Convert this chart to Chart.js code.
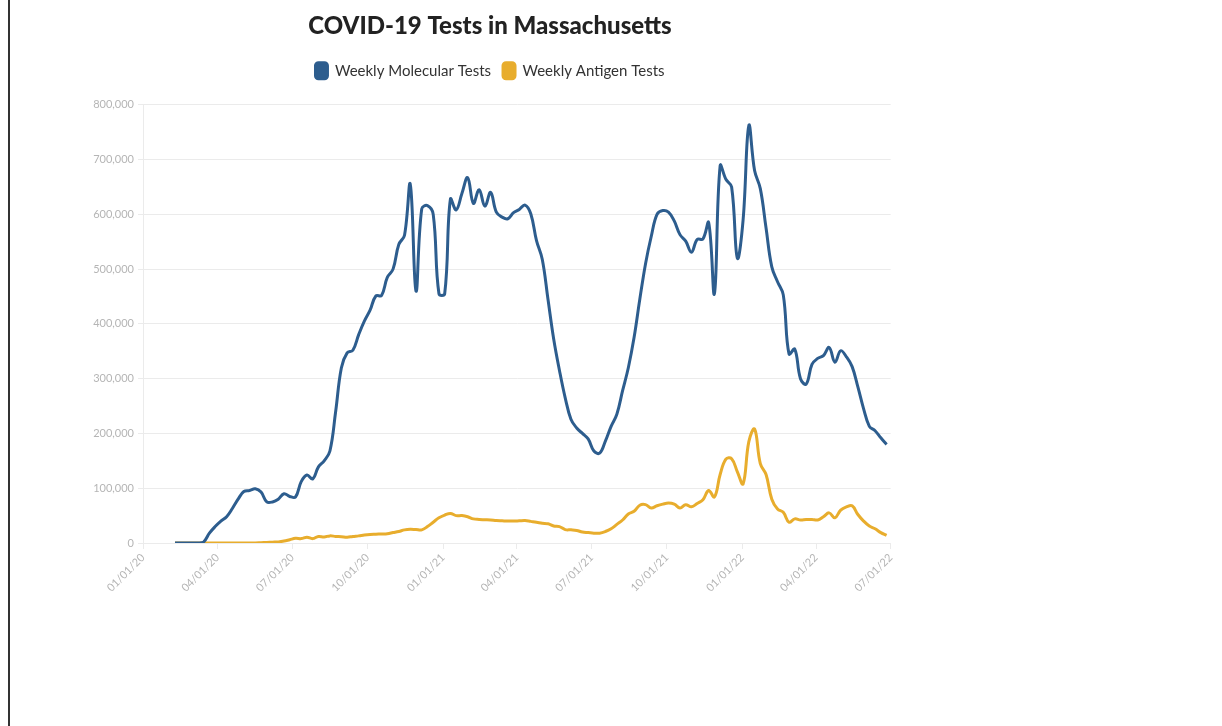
<!DOCTYPE html>
<html>
<head>
<meta charset="utf-8">
<title>COVID-19 Tests in Massachusetts</title>
<script src="https://cdn.jsdelivr.net/npm/chart.js@4.4.1/dist/chart.umd.min.js"></script>
<style>
  html, body { margin: 0; padding: 0; background: #ffffff; }
  body { width: 1222px; height: 726px; position: relative; overflow: hidden; }
  #frame-line { position: absolute; left: 8px; top: 0; width: 2px; height: 726px; background: #333; }
  #wrap { position: absolute; left: 88px; top: 0; width: 814px; height: 611px; }
</style>
</head>
<body>
<div id="frame-line"></div>
<div id="wrap"><canvas id="chart-tests"></canvas></div>
<script>
// Dados semanais (dias desde 01/01/20; primeira semana = 09/02/20)
const firstWeekDay = 39;

// Testes moleculares por semana (milhares)
const molecularK = [
  0, 0, 0, 0, 0, 2, 18, 30, 40, 48,
  63, 80, 94, 96, 99, 93, 75, 75, 80, 90,
  85, 84, 112, 124, 117, 139, 150, 168, 240, 320,
  347, 352, 380, 405, 425, 451, 452, 485, 500, 545,
  562, 655, 460, 610, 616, 600, 455, 455, 628, 608,
  638, 667, 620, 645, 615, 640, 604, 595, 592, 603,
  609, 617, 601, 552, 518, 445, 372, 315, 265, 226,
  210, 200, 190, 168, 164, 186, 213, 235, 278, 320,
  375, 445, 510, 560, 600, 607, 604, 588, 563, 551,
  531, 554, 555, 585, 455, 689, 664, 650, 520, 590,
  762, 680, 647, 575, 504, 477, 453, 345, 354, 300,
  290, 326, 337, 342, 357, 330, 351, 340, 322, 285,
  245, 213, 205, 192, 180
];

// Testes de antígeno por semana (milhares)
const antigenK = [
  0, 0, 0, 0, 0, 0, 0, 0, 0, 0,
  0, 0, 0, 0, 0, 0.5, 1, 1.5, 2, 3.5,
  6, 8.5, 8, 10.5, 8, 12, 11, 13, 12, 11.5,
  10.5, 12, 13, 14.5, 15.5, 16, 16.5, 17, 19, 21,
  24, 25, 24.5, 24, 30, 38, 46, 51, 54, 50,
  50, 48, 44, 43, 42.5, 42, 41, 40.5, 40, 40,
  40.5, 41, 39.5, 38, 36, 35, 31, 30, 24.5, 24,
  23, 20, 19, 18, 18, 21, 26, 34, 42, 53,
  58, 69, 70, 64, 68, 71, 73, 71, 64, 70,
  66, 72, 79, 96, 84, 125, 153, 154, 130, 108,
  185, 208, 145, 125, 80, 62, 56, 38, 44, 42,
  43, 43, 42, 48, 55, 46, 60, 66, 68, 52,
  40, 31, 26, 19, 14
];

// Ticks do eixo X (início de cada trimestre)
const quarterDays = [0, 91, 182, 274, 366, 456, 547, 639, 731, 821, 912];
const quarterLabels = [
  "01/01/20", "04/01/20", "07/01/20", "10/01/20", "01/01/21",
  "04/01/21", "07/01/21", "10/01/21", "01/01/22", "04/01/22", "07/01/22"
];

const yMax = 800000;
const yStep = 100000;

// monta os pontos {x: dia, y: valor}
function toPoints(valuesK) {
  return valuesK.map((v, i) => ({ x: firstWeekDay + 7 * i, y: v * 1000 }));
}

// espaço extra abaixo da legenda
const legendSpacing = {
  id: "legendSpacing",
  beforeInit(chart) {
    const origFit = chart.legend.fit;
    chart.legend.fit = function () {
      origFit.call(this);
      this.height += 16;
    };
  },
};

const tickFont = { family: "Lato", size: 11 };
const tickColor = "#b5b5b5";
const gridColor = "#ebebeb";

const ctx = document.getElementById("chart-tests").getContext("2d");
new Chart(ctx, {
  type: "line",
  data: {
    datasets: [
      {
        label: "Weekly Molecular Tests",
        data: toPoints(molecularK),
        borderColor: "#2d5d8e",
        backgroundColor: "#2d5d8e",
        borderWidth: 3,
        pointRadius: 0,
        tension: 0.4,
      },
      {
        label: "Weekly Antigen Tests",
        data: toPoints(antigenK),
        borderColor: "#e8ad2d",
        backgroundColor: "#e8ad2d",
        borderWidth: 3,
        pointRadius: 0,
        tension: 0.4,
      },
    ],
  },
  plugins: [legendSpacing],
  options: {
    responsive: true,
    maintainAspectRatio: false,
    animation: false,
    layout: { padding: { left: 0, right: 10, top: 0, bottom: 0 } },
    scales: {
      x: {
        type: "linear",
        min: quarterDays[0],
        max: quarterDays[quarterDays.length - 1],
        afterBuildTicks: (scale) => {
          scale.ticks = quarterDays.map((d) => ({ value: d }));
        },
        afterFit: (scale) => {
          scale.height = 68;
        },
        ticks: {
          autoSkip: false,
          minRotation: 45,
          maxRotation: 45,
          color: tickColor,
          font: tickFont,
          padding: 2,
          callback: (value) => {
            const idx = quarterDays.indexOf(value);
            return idx >= 0 ? quarterLabels[idx] : "";
          },
        },
        grid: {
          drawOnChartArea: false,
          color: gridColor,
          tickLength: 6,
        },
        border: { color: gridColor },
      },
      y: {
        min: 0,
        max: yMax,
        afterFit: (scale) => {
          scale.width = 55;
        },
        ticks: {
          stepSize: yStep,
          color: tickColor,
          font: tickFont,
          padding: 4,
          callback: (value) => value.toLocaleString("en-US"),
        },
        grid: {
          color: gridColor,
          tickLength: 5,
        },
        border: { color: gridColor },
      },
    },
    plugins: {
      title: {
        display: true,
        text: "COVID-19 Tests in Massachusetts",
        color: "#222",
        font: { family: "Lato", size: 24, weight: "900" },
        padding: { top: 12, bottom: 10 },
      },
      legend: {
        display: true,
        labels: {
          color: "#333",
          font: { family: "Lato", size: 15 },
          boxWidth: 12,
          boxHeight: 16,
          useBorderRadius: true,
          borderRadius: 3,
          padding: 12,
        },
      },
      tooltip: { enabled: false },
    },
  },
});
</script>
</body>
</html>
